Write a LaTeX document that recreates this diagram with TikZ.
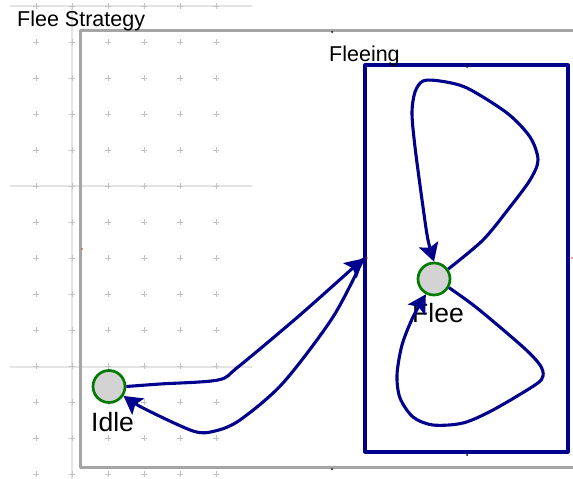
\documentclass[tikz,border=0pt]{standalone}
\usepackage{fontspec}
\setmainfont{Liberation Sans}
\usetikzlibrary{arrows.meta}

\definecolor{navyline}{RGB}{0,0,140}
\definecolor{stategreen}{RGB}{0,122,0}
\definecolor{statefill}{RGB}{211,211,211}
\definecolor{framegray}{RGB}{165,165,165}
\definecolor{gridgray}{RGB}{228,228,228}
\definecolor{markgray}{RGB}{195,195,195}
\definecolor{handlered}{RGB}{235,40,40}

\begin{document}
\begin{tikzpicture}[
    x=1pt,
    y=-1pt,
    line join=round
]

% =========================
% Styles
% =========================
\tikzstyle{frame} = [
    rectangle, draw=framegray,
    line width=3pt,
    inner sep=0pt
]

\tikzstyle{substate} = [
    rectangle, draw=navyline,
    line width=3.2pt,
    inner sep=0pt
]

\tikzstyle{state} = [
    circle, draw=stategreen,
    fill=statefill,
    line width=2.7pt,
    minimum size=32pt,
    inner sep=0pt
]

\tikzstyle{title} = [
    inner sep=0pt,
    anchor=base west,
    font=\fontsize{21.5}{24}\selectfont
]

\tikzstyle{statename} = [
    inner sep=0pt,
    anchor=base west,
    font=\fontsize{26.5}{30}\selectfont
]

\tikzstyle{trans} = [
    draw=navyline,
    line width=3.1pt,
    -{Stealth[length=18pt, width=20pt, inset=3.5pt]}
]

\clip (0,0) rectangle (573,479);
\fill[white] (0,0) rectangle (573,479);

% =========================
% Editor grid
% =========================
\draw[gridgray, line width=1.5pt]
    (10,6) -- (252,6)
    (10,186) -- (252,186)
    (10,367) -- (252,367)
    (72,6) -- (72,479);

\foreach \gx in {36,72,...,216}
    \foreach \gy in {6,42,...,474}
        \draw[markgray, line width=1pt]
            (\gx-3,\gy) -- (\gx+3,\gy)
            (\gx,\gy-3) -- (\gx,\gy+3);

% =========================
% Boxes and states
% =========================
\node[frame, minimum width=504pt, minimum height=437pt]
    (strategy) at (332,248.5) {};
\node[substate, minimum width=203pt, minimum height=387pt]
    (fleeing) at (466.5,258.5) {};

\node[title] (strategyname) at (17,26) {Flee Strategy};
\node[title] (fleeingname) at (329,61) {Fleeing};

\node[state] (idle) at (109,386.5) {};
\node[state] (flee) at (434,279) {};

\node[statename] (idlename) at (91,431) {Idle};
\node[statename] (fleename) at (412,322) {Flee};

% selection handles
\fill[black] (332,32) circle (1pt) (332,469) circle (1pt)
    (467,67) circle (1pt) (467,455) circle (1pt);
\fill[handlered] (82,249) circle (0.9pt) (367,258) circle (0.9pt)
    (572,258) circle (0.9pt);

% =========================
% Transitions
% =========================
\draw[trans] plot[smooth, tension=0.5] coordinates
    {(idle.east) (160,384) (218,380) (238,367) (300,315) (fleeing.west)};

\draw[trans] plot[smooth, tension=0.5] coordinates
    {(fleeing.west) (333,317) (283,383) (240,420) (215,431)
     (193,431) (143,408) (idle.-33)};

\draw[trans] plot[smooth, tension=0.5] coordinates
    {(flee.35) (483,240) (510,207) (530,180) (538,160) (530,137)
     (507,113) (467,88) (440,81) (423,81) (415,92) (412,113)
     (415,147) (423,207) (428,240) (flee.north)};

\draw[trans] plot[smooth, tension=0.5] coordinates
    {(flee.-30) (477,308) (523,347) (540,365) (543,376) (535,385)
     (493,410) (463,423) (433,425) (413,417) (400,398) (397,375)
     (402,345) (413,317) (flee.242)};

\end{tikzpicture}
\end{document}
